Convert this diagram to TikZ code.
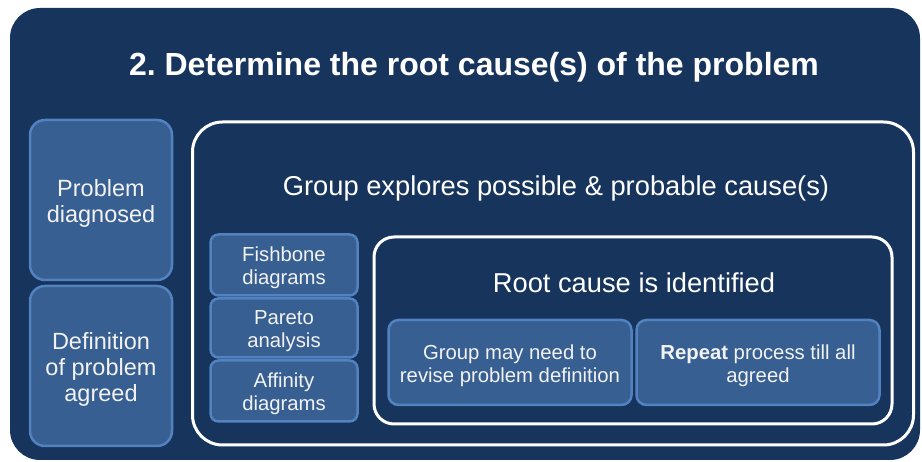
\documentclass[tikz,border=0pt]{standalone}
\usepackage{fontspec}
\setmainfont{Liberation Sans}
\definecolor{navy}{HTML}{17355C}
\definecolor{boxfill}{HTML}{375F92}
\definecolor{boxline}{HTML}{5282C0}
\definecolor{txt}{HTML}{F2F2F2}
\begin{document}
\begin{tikzpicture}[x=1pt,y=-1pt,
  panel/.style={draw=none,fill=navy,rounded corners=30pt,minimum width=910pt,minimum height=452pt,inner sep=0pt},
  lbox/.style={draw=boxline,line width=2.5pt,fill=boxfill,rounded corners=#1,inner sep=0pt},
  btext/.style={align=center,text=txt,inner sep=0pt},
  outline/.style={draw=white,line width=3pt,rounded corners=#1,inner sep=0pt},
  fbig/.style={font=\fontsize{23.5}{26}\selectfont},
  fsmall/.style={font=\fontsize{20.3}{23}\selectfont},
  fmed/.style={font=\fontsize{27.3}{30}\selectfont,text=white},
  ftitle/.style={font=\fontsize{32}{34}\selectfont\bfseries,text=white}]
\useasboundingbox (0,0) rectangle (922,462);
\node[panel] (panel) at (465,234) {};
\node[ftitle] (title) at (474,67.5) {2.\ Determine the root cause(s) of the problem};
\node[lbox=15pt,minimum width=142pt,minimum height=160pt] (p1) at (101,200) {};
\node[btext,fbig] (p1t) at ([yshift=-3pt]p1.center) {Problem\\diagnosed};
\node[lbox=15pt,minimum width=142pt,minimum height=160pt] (p2) at (101,366) {};
\node[btext,fbig] (p2t) at ([yshift=-3pt]p2.center) {Definition\\of problem\\agreed};
\node[outline=30pt,minimum width=721pt,minimum height=323pt] (big) at (553,283.5) {};
\node[fmed] (grouptxt) at (556,188.5) {Group explores possible \& probable cause(s)};
\node[lbox=8pt,minimum width=147pt,minimum height=61pt] (fish) at (284,265) {};
\node[btext,fsmall] (fisht) at ([yshift=-3pt]fish.center) {Fishbone\\diagrams};
\node[lbox=8pt,minimum width=147pt,minimum height=59pt] (pareto) at (284,328) {};
\node[btext,fsmall] (paretot) at ([yshift=-3pt]pareto.center) {Pareto\\analysis};
\node[lbox=8pt,minimum width=147pt,minimum height=61pt] (affinity) at (284,391) {};
\node[btext,fsmall] (affinityt) at ([yshift=-3pt]affinity.center) {Affinity\\diagrams};
\node[outline=20pt,minimum width=518pt,minimum height=187pt] (inner) at (633,330.5) {};
\node[fmed] (roottxt) at (634,283) {Root cause is identified};
\node[lbox=10pt,minimum width=243pt,minimum height=85pt] (grp) at (510,362.5) {};
\node[btext,fsmall] (grpt) at ([yshift=-3pt]grp.center) {Group may need to\\revise problem definition};
\node[lbox=10pt,minimum width=243pt,minimum height=85pt] (rep) at (758,362.5) {};
\node[btext,fsmall] (rept) at ([yshift=-3pt]rep.center) {\textbf{Repeat} process till all\\agreed};
\end{tikzpicture}
\end{document}
